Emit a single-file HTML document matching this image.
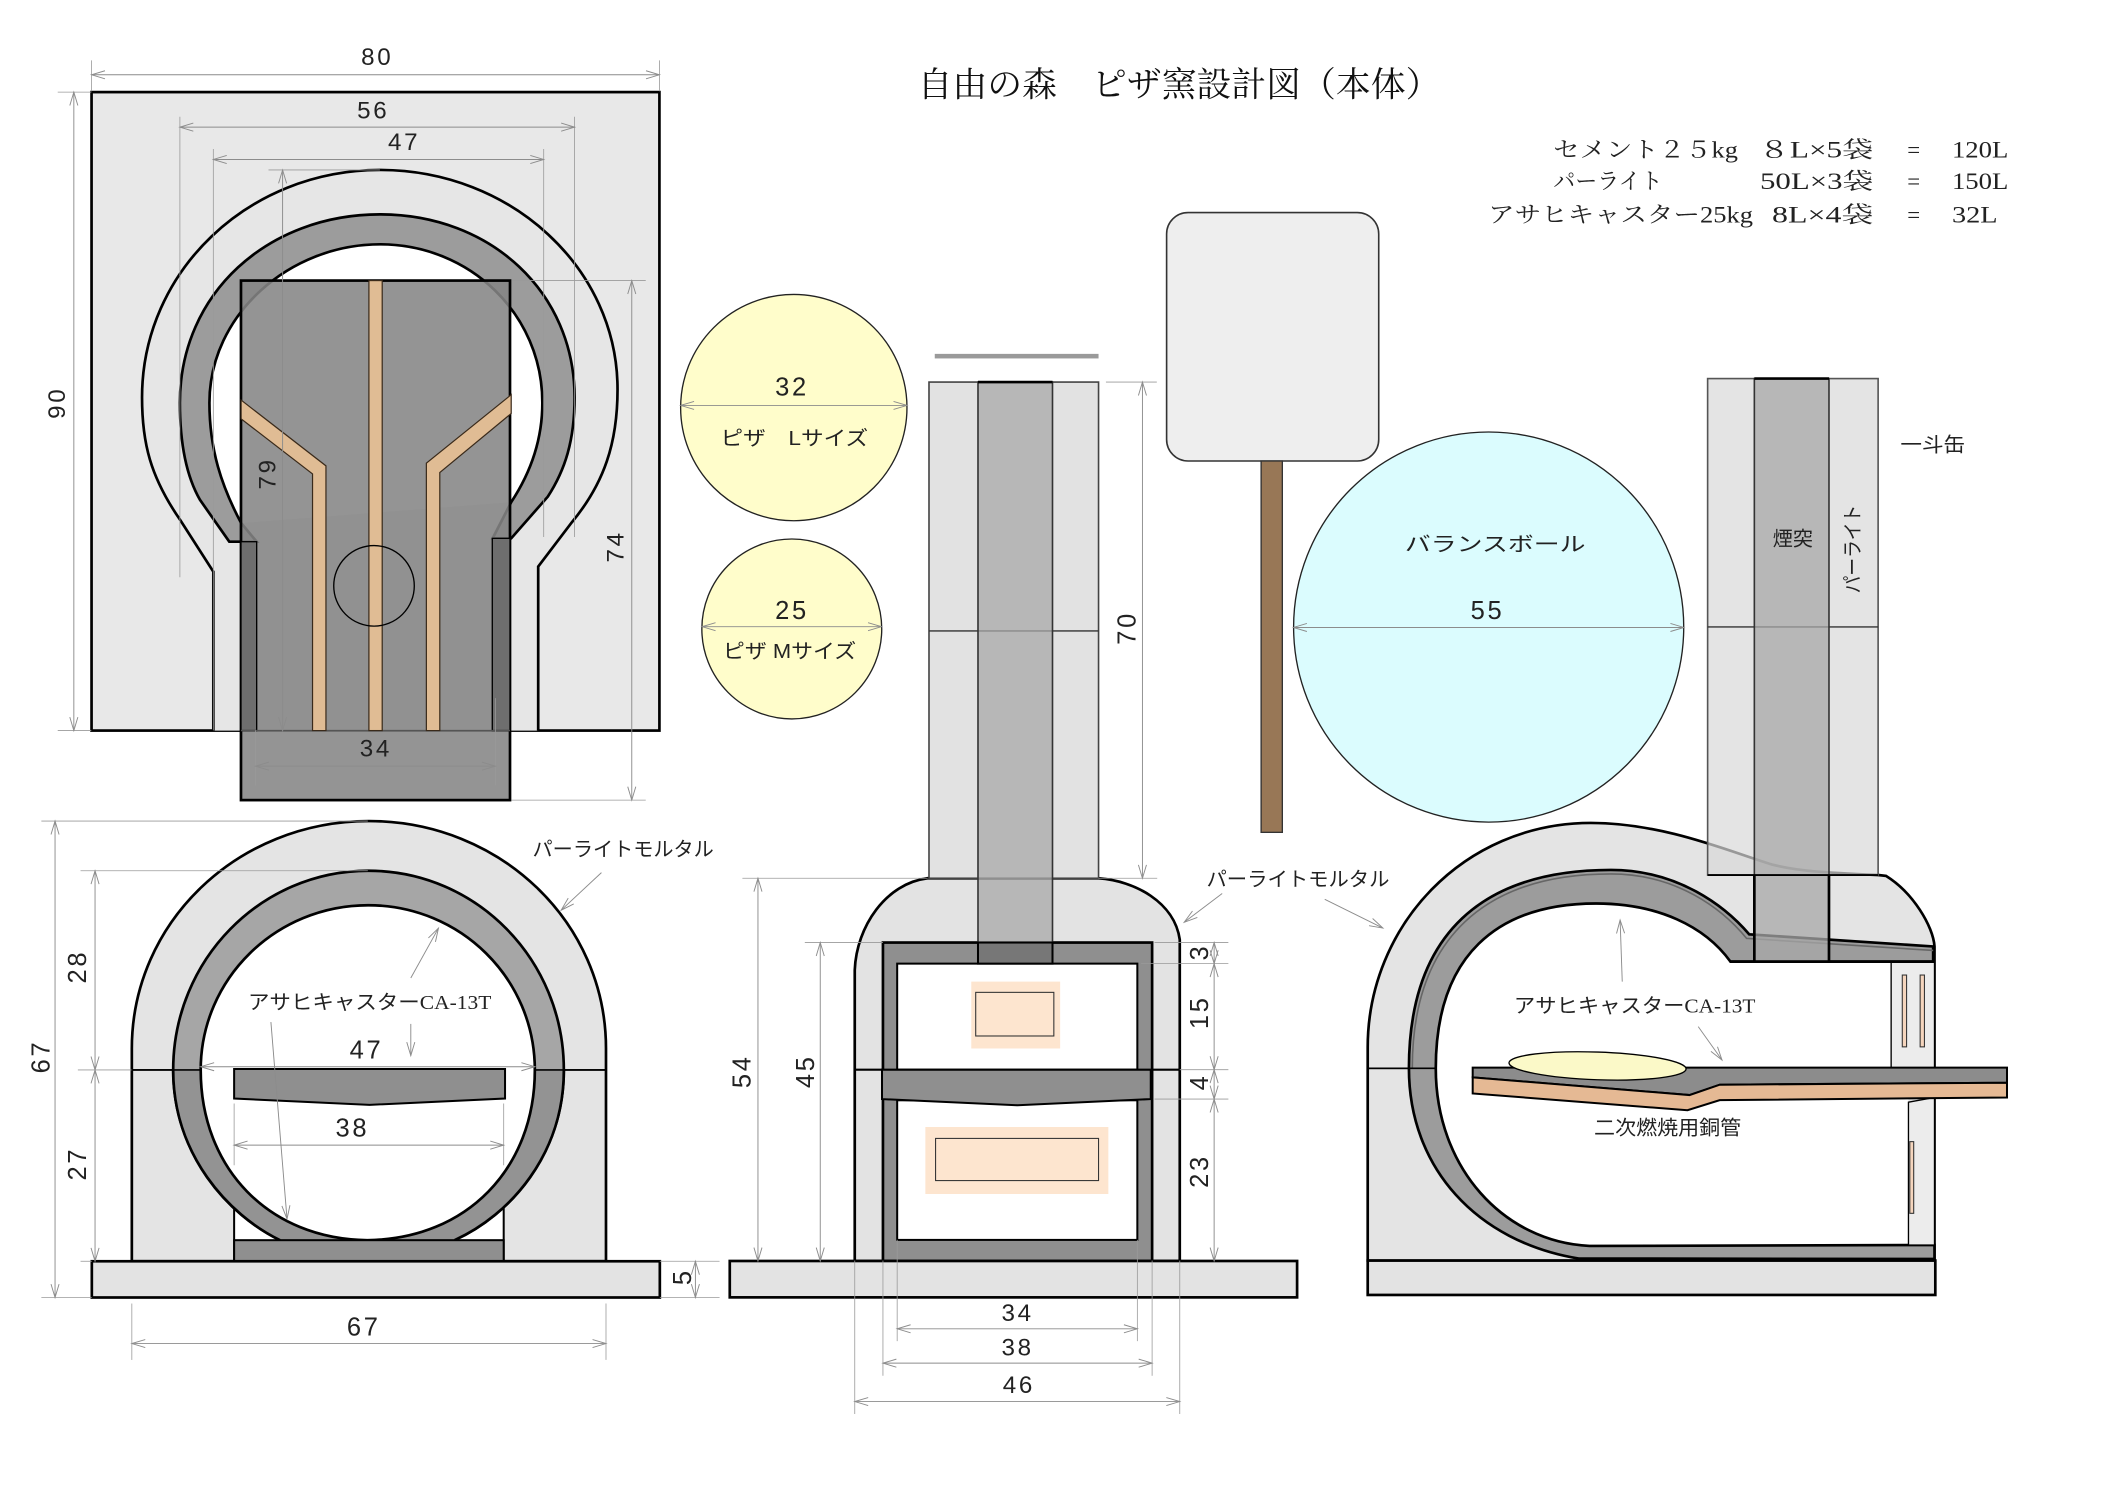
<!DOCTYPE html>
<html><head><meta charset="utf-8"><style>
html,body{margin:0;padding:0;background:#fff}
svg{display:block}
.dm{stroke:#8c8c8c;stroke-width:0.7;fill:none;marker-start:url(#a);marker-end:url(#a)}
.ex{stroke:#9a9a9a;stroke-width:0.6;fill:none}
.ld{stroke:#8c8c8c;stroke-width:0.7;fill:none;marker-end:url(#a)}
.n{font-family:"Liberation Sans","Noto Sans CJK JP",sans-serif;font-size:19px;letter-spacing:2px;text-anchor:middle;dominant-baseline:central;fill:#222}
.s{font-size:18px}
.j{font-family:"Liberation Sans","Noto Sans CJK JP",sans-serif;font-size:15px;dominant-baseline:central;fill:#222}
.m{font-family:"Liberation Serif","Noto Serif CJK SC",serif;font-size:17px;dominant-baseline:central;fill:#222}
</style></head><body>
<svg xmlns="http://www.w3.org/2000/svg" width="2105" height="1488" viewBox="0 0 1568 1108.4" preserveAspectRatio="none">
<defs>
<marker id="a" viewBox="0 0 10 6" refX="10" refY="3" markerWidth="10" markerHeight="6" markerUnits="userSpaceOnUse" orient="auto-start-reverse" overflow="visible"><path d="M0,0 L10,3 L0,6" fill="none" stroke="#8c8c8c" stroke-width="0.7"/></marker>
<clipPath id="lowL"><rect x="0" y="797" width="600" height="200"/></clipPath>
</defs>

<!-- ============ TOP VIEW ============ -->
<rect x="68.2" y="68.6" width="423" height="475.6" fill="#e8e8e8" stroke="#000" stroke-width="2"/>
<path d="M158.9,544.2 V425.8 L134,387 C112,355 105.8,330 105.8,296 C105.8,202 185,126.6 283,126.6 C381,126.6 460,200 460,290 C460,330 450,360 426,389 L400.9,422 V544.2" fill="#e6e6e6" stroke="#000" stroke-width="2"/>
<path d="M179.6,389.6 C165,362 156,335 156,300 C156,234 216,182 283,182 C350,182 404,234 404,300 C404,330 394,354 380.8,374 Z" fill="#fff"/>
<path d="M170.8,403.5 L149,372.4 C139,355 134,330 134,300 C134,218 200,159.7 283,159.7 C366,159.7 428,218 428,296 C428,328 421,350 408,370 L380.8,401 L367,401 L380.8,374 C394,354 404,330 404,300 C404,234 350,182 283,182 C216,182 156,234 156,300 C156,335 165,362 179.6,389.6 L191.2,403.5 Z" fill="#9c9c9c" stroke="#000" stroke-width="2"/>
<rect x="179.5" y="209" width="200.4" height="387" fill="#858585" fill-opacity="0.88" stroke="#000" stroke-width="2"/>
<rect x="179.5" y="403.5" width="11.7" height="140.7" fill="#6e6e6e" stroke="#000" stroke-width="1"/>
<rect x="366.7" y="401" width="13.2" height="143.2" fill="#6e6e6e" stroke="#000" stroke-width="1"/>
<line x1="179.5" y1="544.2" x2="379.9" y2="544.2" stroke="#555" stroke-width="1"/>
<rect x="274.8" y="209" width="9.9" height="335.2" fill="#e0bc94" stroke="#3a2a1a" stroke-width="0.9"/>
<polygon points="179.6,298 242.8,347 242.8,544.2 232.8,544.2 232.8,353 179.6,312" fill="#e0bc94" stroke="#3a2a1a" stroke-width="0.9"/>
<polygon points="380.8,294 317.6,345 317.6,544.2 327.6,544.2 327.6,352 380.8,308" fill="#e0bc94" stroke="#3a2a1a" stroke-width="0.9"/>
<circle cx="278.6" cy="436.4" r="30" fill="none" stroke="#000" stroke-width="1"/>
<!-- top dims -->
<line class="ex" x1="68.2" y1="45" x2="68.2" y2="68"/><line class="ex" x1="491.2" y1="45" x2="491.2" y2="68"/>
<line class="dm" x1="68.2" y1="55.7" x2="491.2" y2="55.7"/>
<text class="n s" x="281" y="43">80</text>
<line class="ex" x1="43" y1="68.6" x2="68" y2="68.6"/><line class="ex" x1="43" y1="544.2" x2="68" y2="544.2"/>
<line class="dm" x1="55" y1="68.6" x2="55" y2="544.2"/>
<text class="n s" transform="translate(43,300) rotate(-90)">90</text>
<line class="ex" x1="134" y1="87" x2="134" y2="430"/><line class="ex" x1="428" y1="87" x2="428" y2="400"/>
<line class="dm" x1="134" y1="94.7" x2="428" y2="94.7"/>
<text class="n s" x="278" y="82.6">56</text>
<line class="ex" x1="158.9" y1="111" x2="158.9" y2="544"/><line class="ex" x1="405" y1="111" x2="405" y2="400"/>
<line class="dm" x1="158.9" y1="118.8" x2="405" y2="118.8"/>
<text class="n s" x="301" y="106">47</text>
<line class="ex" x1="200" y1="126.6" x2="283" y2="126.6"/>
<line class="dm" x1="210.5" y1="126.6" x2="210.5" y2="544.2"/>
<text class="n s" transform="translate(199.5,352.6) rotate(-90)">79</text>
<line class="ex" x1="381" y1="209" x2="481" y2="209"/><line class="ex" x1="381" y1="596" x2="481" y2="596"/>
<line class="dm" x1="470.6" y1="209" x2="470.6" y2="596"/>
<text class="n s" transform="translate(459,407) rotate(-90)">74</text>
<line class="ex" x1="190.3" y1="544" x2="190.3" y2="585"/><line class="ex" x1="369" y1="520" x2="369" y2="585"/>
<line class="dm" x1="190.3" y1="570.7" x2="369" y2="570.7"/>
<text class="n s" x="280" y="558">34</text>

<!-- ============ TITLE / NOTES ============ -->
<text x="683.5" y="63.3" textLength="389.5" lengthAdjust="spacingAndGlyphs" style="font-family:'Liberation Serif','Noto Serif CJK SC',serif;font-size:26px;dominant-baseline:central;fill:#111">自由の森　ピザ窯設計図（本体）</text>
<text class="m" x="1157" y="111.7" textLength="137.6" lengthAdjust="spacingAndGlyphs">セメント２５kg</text>
<text class="m" x="1310" y="111.7" textLength="85.5" lengthAdjust="spacingAndGlyphs">８L×5袋</text>
<text class="m" x="1425.5" y="111.7" text-anchor="middle">=</text>
<text class="m" x="1454" y="111.7" textLength="42" lengthAdjust="spacingAndGlyphs">120L</text>
<text class="m" x="1157" y="135.3" textLength="81.5" lengthAdjust="spacingAndGlyphs">パーライト</text>
<text class="m" x="1311" y="135.3" textLength="84.5" lengthAdjust="spacingAndGlyphs">50L×3袋</text>
<text class="m" x="1425.5" y="135.3" text-anchor="middle">=</text>
<text class="m" x="1454" y="135.3" textLength="42" lengthAdjust="spacingAndGlyphs">150L</text>
<text class="m" x="1108.5" y="160.1" textLength="197.3" lengthAdjust="spacingAndGlyphs">アサヒキャスター25kg</text>
<text class="m" x="1320" y="160.1" textLength="75.5" lengthAdjust="spacingAndGlyphs">8L×4袋</text>
<text class="m" x="1425.5" y="160.1" text-anchor="middle">=</text>
<text class="m" x="1454" y="160.1" textLength="34" lengthAdjust="spacingAndGlyphs">32L</text>

<!-- ============ PIZZA CIRCLES ============ -->
<circle cx="591.3" cy="303.6" r="84.3" fill="#fffdcb" stroke="#222" stroke-width="1"/>
<line class="dm" x1="507" y1="302" x2="675.6" y2="302"/>
<text class="n" x="590" y="288.5">32</text>
<text class="j" x="536.7" y="327" textLength="110" lengthAdjust="spacingAndGlyphs">ピザ　Lサイズ</text>
<circle cx="589.8" cy="468.5" r="67" fill="#fffdcb" stroke="#222" stroke-width="1"/>
<line class="dm" x1="523" y1="466.8" x2="656.6" y2="466.8"/>
<text class="n" x="590" y="455">25</text>
<text class="j" x="538.5" y="485.5" textLength="99.3" lengthAdjust="spacingAndGlyphs">ピザ Mサイズ</text>

<!-- ============ PEEL ============ -->
<rect x="869" y="158.3" width="158" height="185.1" rx="16" fill="#eeeeee" stroke="#333" stroke-width="1.2"/>
<rect x="939.4" y="343.4" width="15.8" height="276.6" fill="#987756" stroke="#333" stroke-width="1"/>

<!-- ============ BALANCE BALL ============ -->
<circle cx="1108.9" cy="467.1" r="145.3" fill="#dbfcfe" stroke="#222" stroke-width="1"/>
<line class="dm" x1="963.5" y1="467.4" x2="1254.3" y2="467.4"/>
<text class="j" x="1046.5" y="406" textLength="134.5" lengthAdjust="spacingAndGlyphs">バランスボール</text>
<text class="n" x="1108" y="455">55</text>

<!-- ============ MIDDLE ELEVATION ============ -->
<rect x="696.3" y="263.6" width="122" height="3.4" fill="#9a9a9a"/>
<path d="M636.7,939.3 V722.6 C638,690 660,658 690.9,654.2 H818.3 C845,656 875,672 878.8,700 V939.3 Z" fill="#e3e3e3" stroke="#000" stroke-width="2"/>
<line x1="636.7" y1="796.8" x2="878.8" y2="796.8" stroke="#000" stroke-width="1.5"/>
<rect x="657.7" y="702.1" width="200.5" height="237.2" fill="#8f8f8f" stroke="#000" stroke-width="2"/>
<rect x="668.3" y="717.8" width="178.9" height="79" fill="#fff" stroke="#000" stroke-width="1.5"/>
<rect x="668.3" y="819.6" width="178.9" height="104" fill="#fff" stroke="#000" stroke-width="1.5"/>
<path d="M657,796.8 H857.2 V818.7 L758,823.3 L657,818.7 Z" fill="#8f8f8f" stroke="#000" stroke-width="1.5"/>
<rect x="723.5" y="731.2" width="66.2" height="49.8" fill="#fde5cf"/>
<rect x="726.8" y="739.2" width="58.2" height="32.5" fill="#fde5cf" stroke="#333" stroke-width="0.8"/>
<rect x="689.3" y="839.5" width="136.3" height="49.9" fill="#fde5cf"/>
<rect x="696.9" y="848" width="121.4" height="31.4" fill="#fde5cf" stroke="#333" stroke-width="0.8"/>
<rect x="692" y="284.6" width="126.3" height="369.6" fill="#e2e2e2" stroke="#444" stroke-width="1.2"/>
<line x1="692" y1="470" x2="818.3" y2="470" stroke="#333" stroke-width="1"/>
<rect x="728.5" y="284.6" width="55.5" height="433.2" fill="#a8a8a8" fill-opacity="0.75" stroke="#333" stroke-width="1.2"/>
<rect x="728.5" y="702.1" width="55.5" height="15.7" fill="#777" stroke="#000" stroke-width="1.5"/>
<line x1="728.5" y1="284.6" x2="784" y2="284.6" stroke="#000" stroke-width="2"/>
<rect x="543.6" y="939.3" width="422.6" height="27.1" fill="#e3e3e3" stroke="#000" stroke-width="2"/>
<!-- middle dims -->
<line class="ex" x1="823.8" y1="284.6" x2="861.7" y2="284.6"/><line class="ex" x1="818.3" y1="654.2" x2="862" y2="654.2"/>
<line class="dm" x1="851" y1="284.6" x2="851" y2="654.2"/>
<text class="n" transform="translate(840,467.7) rotate(-90)">70</text>
<line class="ex" x1="553" y1="654.2" x2="691" y2="654.2"/>
<line class="dm" x1="564.6" y1="654.2" x2="564.6" y2="939.3"/>
<text class="n" transform="translate(553,798) rotate(-90)">54</text>
<line class="ex" x1="599.5" y1="702.1" x2="657.7" y2="702.1"/>
<line class="dm" x1="611" y1="702.1" x2="611" y2="939.3"/>
<text class="n" transform="translate(600.5,798) rotate(-90)">45</text>
<line class="ex" x1="860" y1="702.1" x2="915" y2="702.1"/><line class="ex" x1="850" y1="717.8" x2="915" y2="717.8"/>
<line class="ex" x1="878.8" y1="796.8" x2="915" y2="796.8"/><line class="ex" x1="860" y1="818.7" x2="915" y2="818.7"/>
<line class="dm" x1="904.4" y1="702.1" x2="904.4" y2="717.8"/>
<line class="dm" x1="904.4" y1="717.8" x2="904.4" y2="796.8"/>
<line class="dm" x1="904.4" y1="796.8" x2="904.4" y2="818.7"/>
<line class="dm" x1="904.4" y1="818.7" x2="904.4" y2="939.3"/>
<text class="n" transform="translate(893.7,709.2) rotate(-90)">3</text>
<text class="n" transform="translate(893.7,754) rotate(-90)">15</text>
<text class="n" transform="translate(893.7,805.9) rotate(-90)">4</text>
<text class="n" transform="translate(893.7,872.3) rotate(-90)">23</text>
<line class="ex" x1="668.3" y1="923.6" x2="668.3" y2="999"/><line class="ex" x1="847.2" y1="923.6" x2="847.2" y2="999"/>
<line class="dm" x1="668.3" y1="989.8" x2="847.2" y2="989.8"/>
<text class="n s" x="758" y="978.4">34</text>
<line class="ex" x1="657.7" y1="939" x2="657.7" y2="1024.8"/><line class="ex" x1="858.2" y1="939" x2="858.2" y2="1024.8"/>
<line class="dm" x1="657.7" y1="1015.4" x2="858.2" y2="1015.4"/>
<text class="n s" x="758" y="1004">38</text>
<line class="ex" x1="636.7" y1="939" x2="636.7" y2="1053.3"/><line class="ex" x1="878.8" y1="939" x2="878.8" y2="1053.3"/>
<line class="dm" x1="636.7" y1="1044" x2="878.8" y2="1044"/>
<text class="n s" x="759" y="1032">46</text>
<text class="j" x="898.7" y="655.6" textLength="136.3" lengthAdjust="spacingAndGlyphs">パーライトモルタル</text>
<line class="ld" x1="910.4" y1="665.6" x2="882.1" y2="687"/>
<line class="ld" x1="986.8" y1="669.9" x2="1030.1" y2="691.3"/>

<!-- ============ BOTTOM LEFT (FRONT SECTION) ============ -->
<path d="M98.2,939.5 V781 C98.2,687 177,611.6 274.8,611.6 C372.6,611.6 451.4,687 451.4,781 V939.5 Z" fill="#e4e4e4" stroke="#000" stroke-width="2"/>
<line x1="98.2" y1="797" x2="451.4" y2="797" stroke="#000" stroke-width="1.2"/>
<rect x="174.4" y="893" width="200.8" height="46.5" fill="#fff"/>
<line x1="174.4" y1="895" x2="174.4" y2="939.5" stroke="#000" stroke-width="1.5"/>
<line x1="375.2" y1="895" x2="375.2" y2="939.5" stroke="#000" stroke-width="1.5"/>
<path d="M208.6,923.8 C170,905 129,860 129,797 C129,715 194,648.6 274.5,648.6 C355,648.6 420,715 420,797 C420,860 380,905 338.6,923.8 Z" fill="#a6a6a6" stroke="#000" stroke-width="2"/>
<path d="M208.6,923.8 C170,905 129,860 129,797 C129,715 194,648.6 274.5,648.6 C355,648.6 420,715 420,797 C420,860 380,905 338.6,923.8 Z" fill="#939393" clip-path="url(#lowL)"/>
<path d="M208.6,923.8 C170,905 129,860 129,797 M420,797 C420,860 380,905 338.6,923.8" fill="none" stroke="#000" stroke-width="2"/>
<line x1="98.2" y1="797" x2="451.4" y2="797" stroke="#000" stroke-width="1.2"/>
<path d="M273.6,923.8 C200,923 149.5,870 149.5,797 C149.5,729 205.4,674.3 274.3,674.3 C343,674.3 398.4,729 398.4,797 C398.4,870 348,923 273.6,923.8 Z" fill="#fff" stroke="#000" stroke-width="2"/>
<rect x="174.4" y="923.8" width="200.8" height="15.7" fill="#8f8f8f" stroke="#000" stroke-width="1.5"/>
<path d="M174.4,796.3 H376.2 V818.3 L275.3,823 L174.4,818.3 Z" fill="#8f8f8f" stroke="#000" stroke-width="1.5"/>
<rect x="68.4" y="939.5" width="423.1" height="27" fill="#e3e3e3" stroke="#000" stroke-width="2"/>
<!-- bottom-left dims -->
<line class="ex" x1="30.8" y1="611.6" x2="274" y2="611.6"/><line class="ex" x1="30.8" y1="966.5" x2="68.4" y2="966.5"/>
<line class="dm" x1="41" y1="611.6" x2="41" y2="966.5"/>
<text class="n" transform="translate(30.8,787) rotate(-90)">67</text>
<line class="ex" x1="60" y1="648.6" x2="274" y2="648.6"/><line class="ex" x1="58" y1="797" x2="98" y2="797"/><line class="ex" x1="60" y1="939.5" x2="68.4" y2="939.5"/>
<line class="dm" x1="70.8" y1="648.6" x2="70.8" y2="797"/>
<line class="dm" x1="70.8" y1="797" x2="70.8" y2="939.5"/>
<text class="n" transform="translate(58,720) rotate(-90)">28</text>
<text class="n" transform="translate(58,866.8) rotate(-90)">27</text>
<line class="ex" x1="491.5" y1="939.5" x2="536" y2="939.5"/><line class="ex" x1="491.5" y1="966.5" x2="536" y2="966.5"/>
<line class="dm" x1="518" y1="939.5" x2="518" y2="966.5"/>
<text class="n" transform="translate(508.6,951) rotate(-90)">5</text>
<line class="ex" x1="98.2" y1="971" x2="98.2" y2="1013"/><line class="ex" x1="451.4" y1="971" x2="451.4" y2="1013"/>
<line class="dm" x1="98.2" y1="1000.8" x2="451.4" y2="1000.8"/>
<text class="n" x="271" y="989">67</text>
<line class="dm" x1="149.5" y1="794.6" x2="398.4" y2="794.6"/>
<text class="n" x="273" y="782.6">47</text>
<line class="ex" x1="174.4" y1="822" x2="174.4" y2="868"/><line class="ex" x1="375.2" y1="822" x2="375.2" y2="868"/>
<line class="dm" x1="174.4" y1="853" x2="375.2" y2="853"/>
<text class="n" x="262.5" y="840.6">38</text>
<text class="j" x="396.7" y="633" textLength="135" lengthAdjust="spacingAndGlyphs">パーライトモルタル</text>
<line class="ld" x1="448" y1="650" x2="418" y2="678"/>
<text class="j" x="184.7" y="747" textLength="181.3" lengthAdjust="spacingAndGlyphs">アサヒキャスター<tspan style="font-family:'Liberation Serif',serif">CA-13T</tspan></text>
<line class="ld" x1="306" y1="728.5" x2="326.6" y2="691.4"/>
<line class="ld" x1="306" y1="762.7" x2="306" y2="786.3"/>
<line class="ld" x1="201.8" y1="761.3" x2="213.8" y2="908"/>

<!-- ============ BOTTOM RIGHT (SIDE SECTION) ============ -->
<path d="M1018.8,939 V780 C1018.8,690 1090,613 1185,613 C1240,613 1290,635 1320,644 C1340,649 1360,650 1399,651.8 L1405,652.5 C1425,665 1440,690 1441,705 V939 Z" fill="#e4e4e4" stroke="#000" stroke-width="2"/>
<path d="M1289,716.3 H1408.7 V817 H1421.6 V927.4 H1184 C1120,925 1069.5,870 1069.5,795.8 C1069.5,712 1115,673 1189,673 C1235,673 1270,690 1289,716.3 Z" fill="#fff"/>
<line x1="1018.8" y1="795.8" x2="1069.5" y2="795.8" stroke="#000" stroke-width="1.2"/>
<path d="M1441,937.8 L1176,937.5 C1100,925 1049.5,870 1049.5,795.8 C1049.5,695 1105,648 1200,648 C1250,648 1285,675 1303,696 L1440,705 V716.3 H1289 C1270,690 1235,673 1189,673 C1115,673 1069.5,712 1069.5,795.8 C1069.5,870 1120,925 1184,928.1 L1441,927.4 Z" fill="#9c9c9c" stroke="#000" stroke-width="2"/>
<path d="M1052,795.8 C1052,698 1107,651 1200,651 C1249,651 1283,677 1301,699 L1440,708" fill="none" stroke="#666" stroke-width="1.2"/>
<line x1="1018.8" y1="795.8" x2="1069.5" y2="795.8" stroke="#000" stroke-width="1.2"/>
<rect x="1408.7" y="716.3" width="32.3" height="79" fill="#ececec" stroke="#000" stroke-width="1"/>
<rect x="1417" y="726.3" width="3.2" height="53.5" fill="#f5d5bd" stroke="#333" stroke-width="0.8"/>
<rect x="1430.3" y="726.3" width="3.2" height="53.5" fill="#f5d5bd" stroke="#333" stroke-width="0.8"/>
<polygon points="1421.6,821 1441,817.5 1441,927.4 1421.6,927.4" fill="#ececec" stroke="#000" stroke-width="1"/>
<rect x="1422.6" y="850.4" width="2.9" height="53.4" fill="#f5d5bd" stroke="#333" stroke-width="0.8"/>
<rect x="1018.8" y="939" width="422.8" height="25.6" fill="#e3e3e3" stroke="#000" stroke-width="2"/>
<!-- right chimney -->
<rect x="1272" y="282" width="127" height="369.8" fill="#d8d8d8" fill-opacity="0.7" stroke="#555" stroke-width="1.2"/>
<line x1="1272" y1="467" x2="1399" y2="467" stroke="#333" stroke-width="1"/>
<rect x="1306.8" y="282" width="55.6" height="434.3" fill="#a8a8a8" fill-opacity="0.75" stroke="#333" stroke-width="1.2"/>
<line x1="1306.8" y1="282" x2="1362.4" y2="282" stroke="#000" stroke-width="2"/>
<line x1="1306.8" y1="651.8" x2="1306.8" y2="716.3" stroke="#000" stroke-width="2"/>
<line x1="1362.4" y1="651.8" x2="1362.4" y2="716.3" stroke="#000" stroke-width="2"/>
<line x1="1272" y1="651.8" x2="1399" y2="651.8" stroke="#000" stroke-width="1.4"/>
<line x1="1289" y1="716.3" x2="1441" y2="716.3" stroke="#000" stroke-width="2"/>
<text class="j" x="1335.5" y="402" text-anchor="middle">煙突</text>
<text class="j" transform="translate(1380.6,409) rotate(-90)" text-anchor="middle" textLength="66" lengthAdjust="spacingAndGlyphs">パーライト</text>
<text class="j" x="1415.6" y="331.8" textLength="48.2" lengthAdjust="spacingAndGlyphs">一斗缶</text>
<!-- peel in oven -->
<polygon points="1097,795.3 1495,795.3 1495,806.5 1281,808 1258.5,815.7 1097,802.5" fill="#8c8c8c" stroke="#000" stroke-width="1.5"/>
<polygon points="1097,802.5 1258.5,815.7 1281,808 1495,806.5 1495,817.5 1281,819.5 1257,827 1097,814.5" fill="#e5b994" stroke="#000" stroke-width="1.5"/>
<ellipse cx="1190" cy="794" rx="66" ry="10.3" transform="rotate(2 1190 794)" fill="#fbf9c8" stroke="#000" stroke-width="1"/>
<text class="j" x="1127.7" y="749.9" textLength="179.9" lengthAdjust="spacingAndGlyphs">アサヒキャスター<tspan style="font-family:'Liberation Serif',serif">CA-13T</tspan></text>
<line class="ld" x1="1208.4" y1="731.2" x2="1206.8" y2="685.3"/>
<line class="ld" x1="1265" y1="764.7" x2="1282.7" y2="789.6"/>
<text class="j" x="1187.4" y="840.5" textLength="109.6" lengthAdjust="spacingAndGlyphs">二次燃焼用銅管</text>
</svg>
</body></html>
